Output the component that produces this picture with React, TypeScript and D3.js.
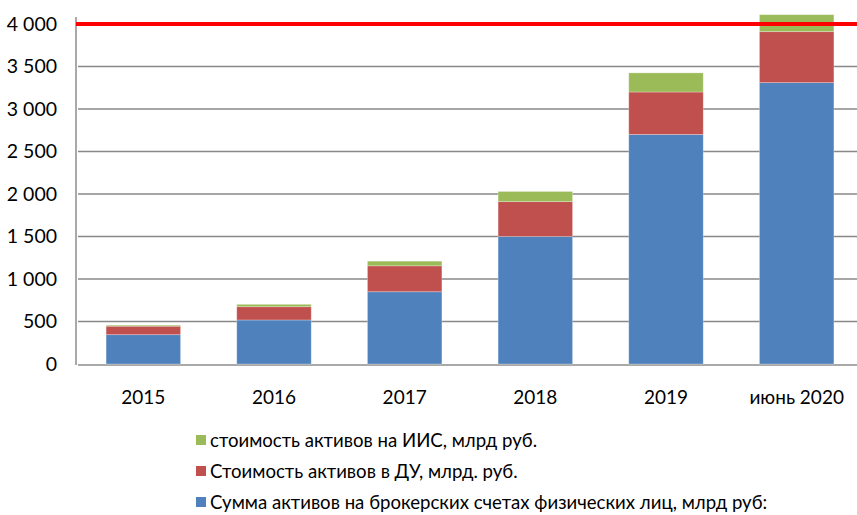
import React, { useEffect, useRef } from 'react';
import * as d3 from 'd3';

const categories = ['2015', '2016', '2017', '2018', '2019', 'июнь 2020'];
const brokerValues = [345, 518, 850, 1500, 2700, 3310];
const duValues = [100, 156, 305, 410, 500, 600];
const iisValues = [12, 28, 55, 120, 225, 200];
const yTicks = [0, 500, 1000, 1500, 2000, 2500, 3000, 3500, 4000];
const thresholdValue = 4000;
const seriesNames = [
  'Сумма активов на брокерских счетах физических лиц, млрд руб:',
  'Стоимость активов в ДУ, млрд. руб.',
  'стоимость активов на ИИС, млрд руб.',
];
const seriesColors = ['#4f81bd', '#c0504d', '#9bbb59'];

const W = 857;
const H = 515;

const App = () => {
  const ref = useRef<SVGSVGElement>(null);

  useEffect(() => {
    const svg = d3.select(ref.current);
    svg.selectAll('*').remove();
    const font = 'Lato, "Open Sans", sans-serif';

    const x = d3.scaleBand<string>()
      .domain(categories)
      .range([78, 862])
      .paddingInner(0.43)
      .paddingOuter(0.215);

    const y = d3.scaleLinear().domain([0, 4000]).range([364, 24]);

    // gridlines
    svg.append('g')
      .selectAll('line')
      .data(yTicks.filter(d => d > 0 && d < 4000))
      .enter()
      .append('line')
      .attr('x1', 78)
      .attr('x2', W)
      .attr('y1', d => y(d))
      .attr('y2', d => y(d))
      .attr('stroke', '#888888')
      .attr('stroke-width', 1.6);

    // baseline and y axis
    svg.append('line')
      .attr('x1', 78).attr('x2', W)
      .attr('y1', y(0) + 1).attr('y2', y(0) + 1)
      .attr('stroke', '#8c8c8c').attr('stroke-width', 1.5);
    svg.append('line')
      .attr('x1', 76).attr('x2', 76)
      .attr('y1', 17).attr('y2', y(0) + 1)
      .attr('stroke', '#8c8c8c').attr('stroke-width', 1.5);

    // y tick labels
    const fmt = (d: number) => d3.format(',')(d).replace(',', ' ');
    svg.append('g')
      .selectAll('text')
      .data(yTicks)
      .enter()
      .append('text')
      .attr('x', 57)
      .attr('y', d => y(d))
      .attr('dy', '0.35em')
      .attr('text-anchor', 'end')
      .attr('font-family', font)
      .attr('font-size', 19.5)
      .attr('fill', '#000')
      .text(d => fmt(d));

    // stacked bars
    const rows = categories.map((c, i) => ({
      cat: c,
      broker: brokerValues[i],
      du: duValues[i],
      iis: iisValues[i],
    }));
    const stack = d3.stack<any>().keys(['broker', 'du', 'iis'])(rows);

    svg.append('g')
      .selectAll('g')
      .data(stack)
      .enter()
      .append('g')
      .attr('fill', (d, i) => seriesColors[i])
      .selectAll('rect')
      .data(d => d)
      .enter()
      .append('rect')
      .attr('x', d => x(d.data.cat) as number)
      .attr('width', x.bandwidth())
      .attr('y', d => y(d[1]))
      .attr('height', d => y(d[0]) - y(d[1]))
      .attr('stroke', 'rgba(255,255,255,0.35)')
      .attr('stroke-width', 0.8);

    // threshold line
    svg.append('line')
      .attr('x1', 76).attr('x2', W)
      .attr('y1', y(thresholdValue)).attr('y2', y(thresholdValue))
      .attr('stroke', '#ff0000')
      .attr('stroke-width', 4);

    // category labels
    svg.append('g')
      .selectAll('text')
      .data(categories)
      .enter()
      .append('text')
      .attr('x', d => (x(d) as number) + x.bandwidth() / 2)
      .attr('y', 404)
      .attr('text-anchor', 'middle')
      .attr('font-family', font)
      .attr('font-size', 19)
      .attr('fill', '#000')
      .text(d => d);

    // legend (reverse order, like Excel)
    const legendOrder = [2, 1, 0];
    const lg = svg.append('g')
      .selectAll('g')
      .data(legendOrder)
      .enter()
      .append('g')
      .attr('transform', (d, i) => `translate(196, ${440 + i * 31})`);
    lg.append('rect')
      .attr('x', 0).attr('y', -5)
      .attr('width', 10).attr('height', 10)
      .attr('fill', d => seriesColors[d]);
    lg.append('text')
      .attr('x', 14)
      .attr('y', 0)
      .attr('dy', '0.35em')
      .attr('font-family', font)
      .attr('font-size', 18.6)
      .attr('fill', '#000')
      .text(d => seriesNames[d]);
  }, []);

  return (
    <svg
      ref={ref}
      width={W}
      height={H}
      style={{ position: 'absolute', left: 0, top: 0, background: '#fff' }}
    />
  );
};

export default App;
